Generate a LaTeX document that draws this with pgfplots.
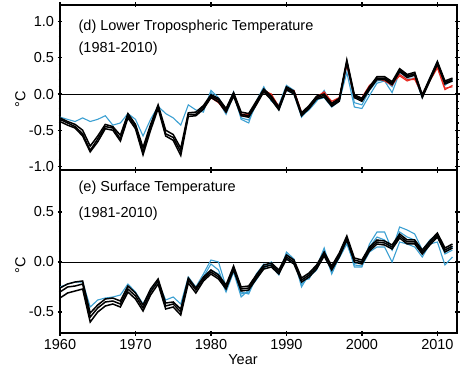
\documentclass[border=0pt]{standalone}
\usepackage{fontspec}
\setmainfont{Liberation Sans}
\usepackage{pgfplots}
\usepackage{pgfplotstable}
\pgfplotsset{compat=1.18}
\definecolor{cblue}{RGB}{60,160,210}
\definecolor{cred}{RGB}{230,40,30}

\pgfplotstableread{
year k1 k2 k3 b1 b2 r1 r2
1960 -0.35 -0.33 -0.38 -0.32 nan nan nan
1961 -0.40 -0.38 -0.43 -0.35 nan nan nan
1962 -0.45 -0.42 -0.47 -0.38 nan nan nan
1963 -0.55 -0.50 -0.58 -0.33 nan nan nan
1964 -0.78 -0.72 -0.80 -0.38 nan nan nan
1965 -0.62 -0.58 -0.66 -0.35 nan nan nan
1966 -0.45 -0.42 -0.48 -0.30 nan nan nan
1967 -0.47 -0.45 -0.50 -0.43 nan nan nan
1968 -0.62 -0.57 -0.65 -0.40 nan nan nan
1969 -0.30 -0.27 -0.33 -0.27 nan nan nan
1970 -0.45 -0.42 -0.48 -0.35 nan nan nan
1971 -0.80 -0.74 -0.84 -0.58 nan nan nan
1972 -0.45 -0.42 -0.50 -0.35 nan nan nan
1973 -0.17 -0.15 -0.20 -0.17 nan nan nan
1974 -0.55 -0.50 -0.58 -0.27 nan nan nan
1975 -0.60 -0.56 -0.64 -0.33 nan nan nan
1976 -0.80 -0.75 -0.85 -0.43 nan nan nan
1977 -0.28 -0.26 -0.31 -0.15 nan nan nan
1978 -0.28 -0.25 -0.30 -0.22 nan nan nan
1979 -0.18 -0.16 -0.21 -0.25 -0.22 -0.20 -0.18
1980 -0.03 -0.01 -0.05 0.05 0.02 -0.05 -0.03
1981 -0.08 -0.06 -0.11 -0.05 -0.10 -0.12 -0.10
1982 -0.22 -0.20 -0.25 -0.22 -0.28 -0.25 -0.23
1983 0.00 0.02 -0.03 0.03 -0.02 0.00 0.01
1984 -0.28 -0.25 -0.30 -0.35 -0.33 -0.30 -0.28
1985 -0.30 -0.27 -0.32 -0.40 -0.36 -0.30 -0.28
1986 -0.12 -0.10 -0.15 -0.10 -0.15 -0.15 -0.13
1987 0.05 0.07 0.03 0.10 0.06 0.05 0.06
1988 -0.05 -0.03 -0.08 -0.10 -0.08 0.00 -0.02
1989 -0.20 -0.18 -0.22 -0.15 -0.22 -0.18 -0.17
1990 0.08 0.10 0.06 0.12 0.05 0.05 0.07
1991 0.02 0.04 0.00 0.05 0.00 0.05 0.04
1992 -0.28 -0.26 -0.30 -0.30 -0.32 -0.25 -0.27
1993 -0.18 -0.16 -0.20 -0.22 -0.20 -0.20 -0.19
1994 -0.05 -0.03 -0.07 -0.10 -0.08 -0.05 -0.04
1995 -0.02 0.00 -0.04 0.05 -0.05 0.02 0.03
1996 -0.15 -0.13 -0.17 -0.15 -0.18 -0.10 -0.12
1997 -0.08 -0.06 -0.10 -0.10 -0.10 -0.05 -0.06
1998 0.45 0.47 0.43 0.30 0.40 0.40 0.42
1999 -0.03 -0.01 -0.05 -0.18 -0.12 -0.05 -0.03
2000 -0.08 -0.06 -0.10 -0.20 -0.15 -0.05 -0.06
2001 0.08 0.10 0.06 -0.02 0.05 0.12 0.10
2002 0.22 0.24 0.20 0.15 0.18 0.20 0.22
2003 0.22 0.24 0.20 0.18 0.20 0.20 0.18
2004 0.15 0.17 0.13 0.02 0.10 0.15 0.12
2005 0.33 0.35 0.31 0.30 0.32 0.25 0.27
2006 0.25 0.27 0.23 0.22 0.24 0.18 0.20
2007 0.28 0.30 0.26 0.22 0.26 0.22 0.20
2008 -0.03 -0.01 -0.05 -0.05 -0.04 -0.02 0.00
2009 0.20 0.22 0.18 0.22 0.20 0.20 0.18
2010 0.43 0.45 0.41 0.45 0.42 0.38 0.36
2011 0.16 0.18 0.14 0.12 0.15 0.08 0.06
2012 0.20 0.22 0.18 0.20 0.18 0.10 0.12
}\toptab

\pgfplotstableread{
year k1 k2 k3 b1 b2 b3
1960 -0.30 -0.26 -0.36 -0.25 nan nan
1961 -0.25 -0.22 -0.31 -0.22 nan nan
1962 -0.24 -0.20 -0.29 -0.20 nan nan
1963 -0.22 -0.19 -0.27 -0.20 nan nan
1964 -0.55 -0.51 -0.60 -0.45 nan nan
1965 -0.46 -0.43 -0.50 -0.38 nan nan
1966 -0.40 -0.37 -0.44 -0.36 nan nan
1967 -0.39 -0.36 -0.42 -0.35 nan nan
1968 -0.42 -0.39 -0.45 -0.33 nan nan
1969 -0.27 -0.24 -0.30 -0.22 nan nan
1970 -0.34 -0.31 -0.37 -0.30 nan nan
1971 -0.46 -0.43 -0.49 -0.42 nan nan
1972 -0.30 -0.27 -0.33 -0.28 nan nan
1973 -0.19 -0.17 -0.22 -0.20 nan nan
1974 -0.44 -0.41 -0.47 -0.38 nan nan
1975 -0.42 -0.40 -0.45 -0.35 nan nan
1976 -0.50 -0.47 -0.53 -0.42 nan nan
1977 -0.18 -0.16 -0.21 -0.15 nan nan
1978 -0.28 -0.26 -0.31 -0.25 nan nan
1979 -0.17 -0.15 -0.19 -0.12 -0.15 -0.18
1980 -0.10 -0.08 -0.12 0.02 -0.02 -0.08
1981 -0.15 -0.13 -0.17 0.00 -0.08 -0.12
1982 -0.25 -0.23 -0.27 -0.25 -0.28 -0.30
1983 -0.06 -0.04 -0.08 -0.05 -0.08 -0.10
1984 -0.27 -0.25 -0.29 -0.30 -0.32 -0.35
1985 -0.26 -0.24 -0.28 -0.32 -0.30 -0.28
1986 -0.15 -0.13 -0.17 -0.15 -0.12 -0.18
1987 -0.05 -0.03 -0.07 -0.05 -0.02 -0.06
1988 -0.03 -0.01 -0.05 0.00 -0.04 -0.02
1989 -0.10 -0.08 -0.12 -0.12 -0.13 -0.10
1990 0.05 0.07 0.03 0.08 0.10 0.04
1991 0.00 0.02 -0.02 0.02 0.03 -0.02
1992 -0.18 -0.16 -0.20 -0.22 -0.25 -0.18
1993 -0.13 -0.11 -0.15 -0.15 -0.12 -0.17
1994 -0.05 -0.03 -0.07 -0.08 -0.05 -0.03
1995 0.08 0.10 0.06 0.12 0.14 0.06
1996 -0.06 -0.04 -0.08 -0.12 -0.10 -0.08
1997 0.07 0.09 0.05 0.05 0.08 0.04
1998 0.24 0.26 0.22 0.22 0.20 0.18
1999 0.02 0.04 0.00 -0.05 -0.03 -0.02
2000 0.00 0.02 -0.02 -0.05 -0.04 0.01
2001 0.13 0.15 0.11 0.18 0.10 0.15
2002 0.20 0.22 0.18 0.30 0.15 0.25
2003 0.19 0.21 0.17 0.30 0.15 0.22
2004 0.15 0.17 0.13 0.12 0.00 0.12
2005 0.26 0.28 0.24 0.35 0.20 0.30
2006 0.20 0.22 0.18 0.32 0.18 0.25
2007 0.20 0.22 0.18 0.28 0.15 0.22
2008 0.10 0.12 0.08 0.12 0.05 0.08
2009 0.19 0.21 0.17 0.22 0.18 0.20
2010 0.27 0.29 0.25 0.28 0.20 0.25
2011 0.12 0.14 0.10 0.08 -0.03 0.10
2012 0.16 0.18 0.14 0.12 0.05 0.15
}\bottab

\pgfplotsset{
  panel/.style={
    scale only axis, width=397pt,
    xmin=1960, xmax=2012.6,
    xtick={1960,1970,1980,1990,2000,2010},
    axis line style={line width=2.6pt},
    tick style={line width=1.2pt, black},
    major tick length=5pt, minor tick length=3pt,
    tick align=center,
    minor y tick num=4,
    unbounded coords=jump,
    tick label style={font=\fontsize{14.5}{17}\selectfont},
    /pgf/number format/assume math mode=true,
    yticklabel style={/pgf/number format/.cd, fixed, fixed zerofill, precision=1},
    label style={font=\fontsize{14.5}{17}\selectfont},
    ylabel={°C},
  },
  kline/.style={black, line width=1.5pt},
  bline/.style={cblue, line width=1.1pt},
  rline/.style={cred, line width=1.1pt},
}

\begin{document}
\begin{tikzpicture}[x=1pt,y=1pt]
\begin{axis}[panel,
  at={(60pt,197pt)}, anchor=south west, height=165pt,
  ymin=-1.05, ymax=1.23,
  ytick={-1,-0.5,0,0.5,1},
  xticklabels={},
  ylabel style={at={(axis description cs:-0.1,0.43)}, anchor=center},
]
\draw[black, line width=0.8pt] (axis cs:1960,0) -- (axis cs:2012.6,0);
\addplot[bline] table[x=year,y=b1]{\toptab};
\addplot[bline] table[x=year,y=b2]{\toptab};
\addplot[rline] table[x=year,y=r1]{\toptab};
\addplot[rline] table[x=year,y=r2]{\toptab};
\addplot[kline] table[x=year,y=k2]{\toptab};
\addplot[kline] table[x=year,y=k3]{\toptab};
\addplot[kline] table[x=year,y=k1]{\toptab};
\node[anchor=base west, font=\fontsize{14.5}{17}\selectfont] at (axis cs:1962,0.88) {(d) Lower Tropospheric Temperature};
\node[anchor=base west, font=\fontsize{14.5}{17}\selectfont] at (axis cs:1962,0.58) {(1981-2010)};
\node[rotate=90, font=\fontsize{8}{9}\selectfont, gray] at (axis description cs:1.025,0.485) {d};
\end{axis}
\begin{axis}[panel,
  at={(60pt,34pt)}, anchor=south west, height=163pt,
  ymin=-0.71, ymax=0.92,
  ytick={-0.5,0,0.5},
  xticklabel style={/pgf/number format/1000 sep={}},
  xlabel={Year},
  xlabel style={at={(axis description cs:0.461,-0.16)}, anchor=center},
  ylabel style={at={(axis description cs:-0.1,0.417)}, anchor=center},
]
\draw[black, line width=0.8pt] (axis cs:1960,0) -- (axis cs:2012.6,0);
\addplot[bline] table[x=year,y=b1]{\bottab};
\addplot[bline] table[x=year,y=b2]{\bottab};
\addplot[bline] table[x=year,y=b3]{\bottab};
\addplot[kline] table[x=year,y=k2]{\bottab};
\addplot[kline] table[x=year,y=k3]{\bottab};
\addplot[kline] table[x=year,y=k1]{\bottab};
\node[anchor=base west, font=\fontsize{14.5}{17}\selectfont] at (axis cs:1962,0.70) {(e) Surface Temperature};
\node[anchor=base west, font=\fontsize{14.5}{17}\selectfont] at (axis cs:1962,0.44) {(1981-2010)};
\node[rotate=90, font=\fontsize{8}{9}\selectfont, gray] at (axis description cs:1.025,0.49) {e};
\end{axis}
\pgfresetboundingbox
\path[use as bounding box] (0,0) rectangle (470pt,367pt);
\end{tikzpicture}
\end{document}
